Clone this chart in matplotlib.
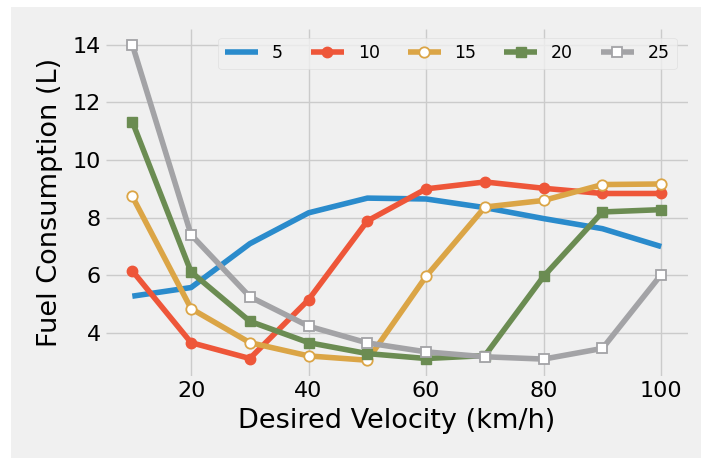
import matplotlib
matplotlib.use("Agg")
import matplotlib.pyplot as plt
from matplotlib.patches import Rectangle

plt.style.use("fivethirtyeight")

velocity = [10, 20, 30, 40, 50, 60, 70, 80, 90, 100]
series_labels = ["5", "10", "15", "20", "25"]
fuel_5 = [5.28, 5.58, 7.10, 8.17, 8.68, 8.65, 8.35, 7.97, 7.62, 7.00]
fuel_10 = [6.16, 3.67, 3.12, 5.16, 7.89, 9.00, 9.24, 9.02, 8.84, 8.84]
fuel_15 = [8.74, 4.85, 3.67, 3.21, 3.06, 5.97, 8.37, 8.60, 9.15, 9.17]
fuel_20 = [11.33, 6.12, 4.41, 3.67, 3.29, 3.12, 3.22, 5.97, 8.20, 8.28]
fuel_25 = [14.00, 7.41, 5.26, 4.24, 3.66, 3.35, 3.18, 3.10, 3.47, 6.03]

fig = plt.figure(figsize=(7.01, 4.58), dpi=100, facecolor="white")
fig.patches.append(Rectangle((11 / 701, 0), 1 - 11 / 701, 1 - 7 / 458,
                             transform=fig.transFigure, facecolor="#f0f0f0",
                             edgecolor="none", zorder=-10))
ax = fig.add_axes([0.151, 0.179, 0.830, 0.758])
ax.set_facecolor("#f0f0f0")

lw = 4
ax.plot(velocity, fuel_5, color="#2a8bcc", lw=lw, label=series_labels[0])
ax.plot(velocity, fuel_10, color="#ee5639", lw=lw, marker="o", ms=7.5,
        label=series_labels[1])
ax.plot(velocity, fuel_15, color="#dba546", lw=lw, marker="o", ms=7.5,
        mfc="white", mec="#dba546", mew=1.3, label=series_labels[2])
ax.plot(velocity, fuel_20, color="#6b8c52", lw=lw, marker="s", ms=7,
        label=series_labels[3])
ax.plot(velocity, fuel_25, color="#a3a3a6", lw=lw, marker="s", ms=7,
        mfc="white", mec="#a3a3a6", mew=1.3, label=series_labels[4])

ax.set_xticks([20, 40, 60, 80, 100])
ax.set_yticks([4, 6, 8, 10, 12, 14])
ax.tick_params(labelsize=16)
ax.set_xlabel("Desired Velocity (km/h)", fontsize=19.5, labelpad=5)
ax.set_ylabel("Fuel Consumption (L)", fontsize=19.5, labelpad=7)
ax.grid(True, color="#cbcbcb", lw=1)
for s in ax.spines.values():
    s.set_visible(False)

leg = ax.legend(ncol=5, loc="upper right", fontsize=12.5, frameon=True,
                bbox_to_anchor=(0.99, 0.99), borderaxespad=0.3,
                columnspacing=1.6, handlelength=1.9)
leg.get_frame().set_facecolor("#f0f0f0")
leg.get_frame().set_edgecolor("#dcdcdc")
leg.get_frame().set_alpha(0.8)

fig.savefig("out.png", dpi=100, facecolor=fig.get_facecolor())
